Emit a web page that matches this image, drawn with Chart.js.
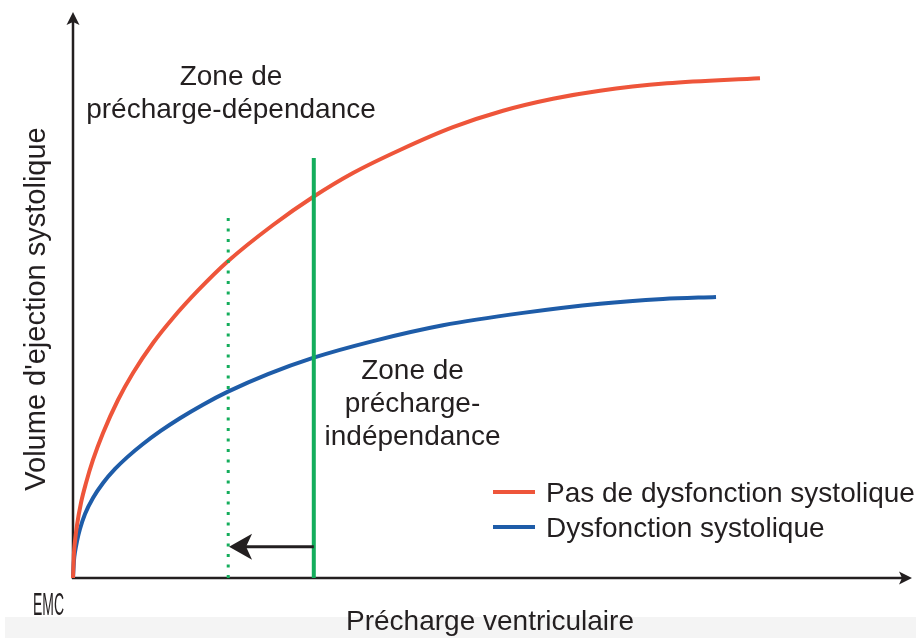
<!DOCTYPE html>
<html>
<head>
<meta charset="utf-8">
<script src="https://cdn.jsdelivr.net/npm/chart.js@4/dist/chart.umd.min.js"></script>
<style>
  html, body { margin: 0; padding: 0; background: #ffffff; }
  #wrap { position: relative; width: 916px; height: 638px; }
</style>
</head>
<body>
<div id="wrap"><canvas id="c"></canvas></div>
<script>
// ---- Data (arbitrary units: précharge 0..100, volume 0..100) ----
const redX  = [0, 0.12, 0.24, 0.48, 0.95, 1.55, 2.38, 3.58, 5.36, 7.15, 9.54, 11.92, 14.90, 18.36, 23.84, 28.61, 33.37, 38.97, 45.29, 51.25, 57.21, 62.81, 70.80, 81.88];
const redY  = [0, 4.59, 6.54, 9.36, 13.25, 16.78, 20.85, 25.62, 31.45, 36.22, 41.52, 45.94, 50.80, 55.83, 62.37, 67.31, 71.55, 75.62, 79.65, 82.56, 84.68, 86.10, 87.40, 88.30];
const blueX = [0, 0.12, 0.24, 0.48, 0.83, 1.43, 2.38, 3.58, 5.01, 6.44, 8.34, 10.49, 12.75, 15.49, 18.47, 23.24, 28.60, 35.76, 44.10, 53.64, 62.81, 70.32, 76.64];
const blueY = [0, 3.18, 4.59, 6.54, 8.66, 11.31, 14.13, 16.78, 19.26, 21.31, 23.67, 26.02, 28.22, 30.62, 32.92, 36.02, 38.89, 41.86, 44.65, 46.84, 48.46, 49.29, 49.66];
const solidLineX = 28.7, solidLineTop = 74.2;
const dottedLineX = 18.5, dottedLineTop = 63.6;
const arrowFromX = 28.7, arrowToX = 18.6, arrowY = 5.5;
const seriesLabels = ['Pas de dysfonction systolique', 'Dysfonction systolique'];
const zone1Lines = ['Zone de', 'précharge-dépendance'];
const zone2Lines = ['Zone de', 'précharge-', 'indépendance'];
const xTitle = 'Précharge ventriculaire';
const yTitle = "Volume d'ejection systolique";

const RED = '#ee553a', BLUE = '#1e5ca8', GREEN = '#14ad5c', INK = '#231f20';
const FAMILY = '"Liberation Sans", Arial, Helvetica, sans-serif';
const FONT = '28px ' + FAMILY;

const pts = (xs, ys) => xs.map((x, i) => ({ x, y: ys[i] }));

const overlay = {
  id: 'overlay',
  beforeDraw(chart) {
    const ctx = chart.ctx;
    ctx.save();
    ctx.fillStyle = '#f4f4f4';
    ctx.fillRect(5, 617, 911, 21);
    ctx.restore();
  },
  beforeDatasetsDraw(chart) {
    const ctx = chart.ctx, xs = chart.scales.x, ys = chart.scales.y;
    const x0 = xs.getPixelForValue(0), y0 = ys.getPixelForValue(0);
    const xEnd = xs.getPixelForValue(100), yEnd = ys.getPixelForValue(100);
    ctx.save();
    ctx.strokeStyle = INK; ctx.fillStyle = INK; ctx.lineWidth = 2.5;
    ctx.beginPath();
    ctx.moveTo(x0, y0 + 1); ctx.lineTo(x0, yEnd + 8);
    ctx.moveTo(x0 - 1, y0); ctx.lineTo(xEnd - 8, y0);
    ctx.stroke();
    ctx.beginPath();
    ctx.moveTo(x0, yEnd); ctx.lineTo(x0 - 6.5, yEnd + 13); ctx.lineTo(x0, yEnd + 10); ctx.lineTo(x0 + 6.5, yEnd + 13);
    ctx.closePath(); ctx.fill();
    ctx.beginPath();
    ctx.moveTo(xEnd, y0); ctx.lineTo(xEnd - 13, y0 - 6.5); ctx.lineTo(xEnd - 10, y0); ctx.lineTo(xEnd - 13, y0 + 6.5);
    ctx.closePath(); ctx.fill();
    ctx.restore();
  },
  afterDatasetsDraw(chart) {
    const ctx = chart.ctx, xs = chart.scales.x, ys = chart.scales.y;
    ctx.save();
    const ax1 = xs.getPixelForValue(arrowFromX), ax2 = xs.getPixelForValue(arrowToX), ay = ys.getPixelForValue(arrowY);
    ctx.strokeStyle = INK; ctx.fillStyle = INK; ctx.lineWidth = 3;
    ctx.beginPath(); ctx.moveTo(ax1, ay); ctx.lineTo(ax2 + 14, ay); ctx.stroke();
    ctx.beginPath();
    ctx.moveTo(ax2, ay); ctx.lineTo(ax2 + 23, ay - 13); ctx.lineTo(ax2 + 17, ay); ctx.lineTo(ax2 + 23, ay + 13);
    ctx.closePath(); ctx.fill();

    ctx.font = FONT; ctx.fillStyle = INK; ctx.textAlign = 'center'; ctx.textBaseline = 'alphabetic';
    zone1Lines.forEach((t, i) => ctx.fillText(t, 231, 85 + i * 33));
    zone2Lines.forEach((t, i) => ctx.fillText(t, 412.5, 379 + i * 33));
    ctx.fillText(xTitle, 490, 630);
    ctx.save();
    ctx.translate(45, 309); ctx.rotate(-Math.PI / 2);
    ctx.font = '29px ' + FAMILY;
    ctx.fillText(yTitle, 0, 0);
    ctx.restore();

    const colors = [RED, BLUE];
    ctx.textAlign = 'left';
    seriesLabels.forEach((t, i) => {
      const ly = 492 + i * 35;
      ctx.strokeStyle = colors[i]; ctx.lineWidth = 4;
      ctx.beginPath(); ctx.moveTo(493, ly); ctx.lineTo(535, ly); ctx.stroke();
      ctx.fillStyle = INK;
      ctx.fillText(t, 546, ly + 10);
    });

    ctx.save();
    ctx.translate(33, 615); ctx.scale(0.45, 1);
    ctx.font = '31px ' + FAMILY;
    ctx.fillText('EMC', 0, 0);
    ctx.restore();
    ctx.restore();
  }
};

new Chart(document.getElementById('c'), {
  type: 'line',
  data: {
    datasets: [
      { label: 'solid', data: [{ x: solidLineX, y: 0 }, { x: solidLineX, y: solidLineTop }],
        borderColor: GREEN, borderWidth: 4, pointRadius: 0, order: 0, borderCapStyle: 'butt' },
      { label: 'dotted', data: [{ x: dottedLineX, y: 0 }, { x: dottedLineX, y: dottedLineTop }],
        borderColor: GREEN, borderWidth: 3, borderDash: [3, 7.5], pointRadius: 0, order: 0, borderCapStyle: 'butt' },
      { label: seriesLabels[0], data: pts(redX, redY), borderColor: RED, borderWidth: 4,
        pointRadius: 0, cubicInterpolationMode: 'monotone', order: 1 },
      { label: seriesLabels[1], data: pts(blueX, blueY), borderColor: BLUE, borderWidth: 4,
        pointRadius: 0, cubicInterpolationMode: 'monotone', order: 1 }
    ]
  },
  options: {
    responsive: true,
    maintainAspectRatio: false,
    animation: false,
    clip: false,
    layout: { padding: { left: 73, right: 4, top: 12, bottom: 60 } },
    plugins: { legend: { display: false }, tooltip: { enabled: false } },
    scales: {
      x: { type: 'linear', min: 0, max: 100, display: false },
      y: { type: 'linear', min: 0, max: 100, display: false }
    }
  },
  plugins: [overlay]
});
</script>
</body>
</html>
